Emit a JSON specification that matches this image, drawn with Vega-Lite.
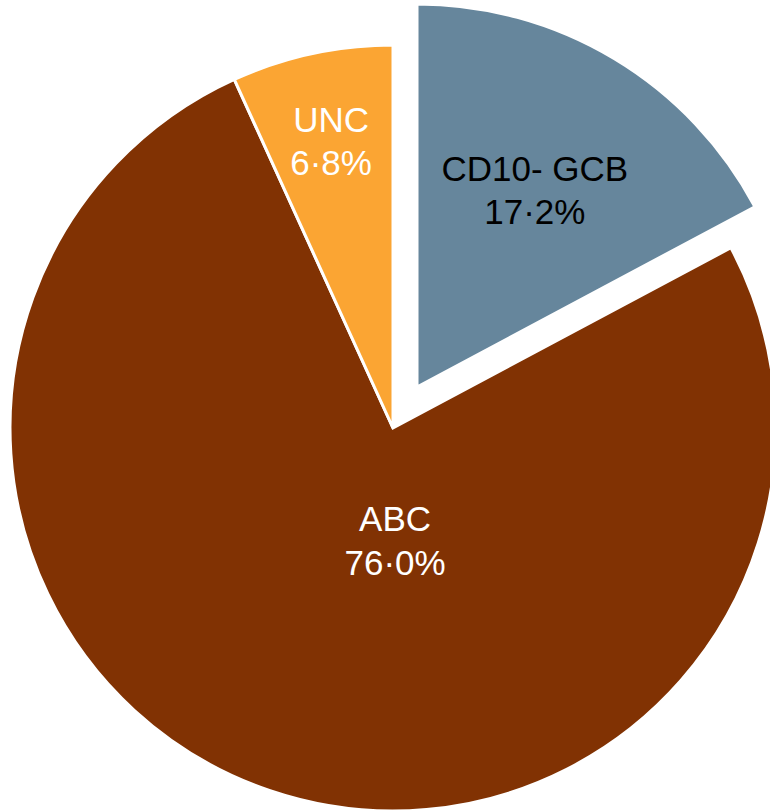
{
  "$schema": "https://vega.github.io/schema/vega-lite/v6.json",
  "width": 786,
  "height": 856,
  "padding": 0,
  "autosize": {"type": "none"},
  "background": "white",
  "config": {"view": {"stroke": null}},
  "data": {
    "values": [
      {"cat": "CD10- GCB", "value": 17.2, "order": 1, "label": "CD10- GCB\n17·2%"},
      {"cat": "ABC", "value": 76.0, "order": 2, "label": "ABC\n76·0%"},
      {"cat": "UNC", "value": 6.8, "order": 3, "label": "UNC\n6·8%"}
    ]
  },
  "encoding": {
    "theta": {"field": "value", "type": "quantitative", "stack": true},
    "order": {"field": "order", "type": "quantitative", "sort": "ascending"}
  },
  "layer": [
    {
      "mark": {"type": "arc", "outerRadius": 383, "stroke": "white", "strokeWidth": 3},
      "encoding": {
        "color": {"field": "cat", "type": "nominal", "legend": null,
          "scale": {"domain": ["CD10- GCB", "ABC", "UNC"], "range": ["#66869C", "#813203", "#FBA533"]}},
        "opacity": {"condition": {"test": "datum.cat === 'CD10- GCB'", "value": 0}, "value": 1}
      }
    },
    {
      "mark": {"type": "arc", "outerRadius": 383, "stroke": "white", "strokeWidth": 3, "xOffset": 24, "yOffset": -41},
      "encoding": {
        "color": {"field": "cat", "type": "nominal", "legend": null,
          "scale": {"domain": ["CD10- GCB", "ABC", "UNC"], "range": ["#66869C", "#813203", "#FBA533"]}},
        "opacity": {"condition": {"test": "datum.cat === 'CD10- GCB'", "value": 1}, "value": 0}
      }
    },
    {
      "mark": {"type": "text", "radius": 292, "dy": -22, "fill": "white", "font": "Liberation Sans", "fontSize": 35, "lineBreak": "\n", "lineHeight": 43, "align": "center", "baseline": "middle"},
      "encoding": {
        "text": {"condition": {"test": "datum.cat === 'UNC'", "field": "label", "type": "nominal"}, "value": ""}
      }
    },
    {
      "mark": {"type": "text", "radius": 229, "xOffset": 24, "yOffset": -41, "dy": -21, "fill": "black", "font": "Liberation Sans", "fontSize": 35, "lineBreak": "\n", "lineHeight": 43, "align": "center", "baseline": "middle"},
      "encoding": {
        "text": {"condition": {"test": "datum.cat === 'CD10- GCB'", "field": "label", "type": "nominal"}, "value": ""}
      }
    },
    {
      "mark": {"type": "text", "radius": 115, "dx": 39, "dy": -17, "fill": "white", "font": "Liberation Sans", "fontSize": 35, "lineBreak": "\n", "lineHeight": 44, "align": "center", "baseline": "middle"},
      "encoding": {
        "text": {"condition": {"test": "datum.cat === 'ABC'", "field": "label", "type": "nominal"}, "value": ""}
      }
    }
  ]
}
